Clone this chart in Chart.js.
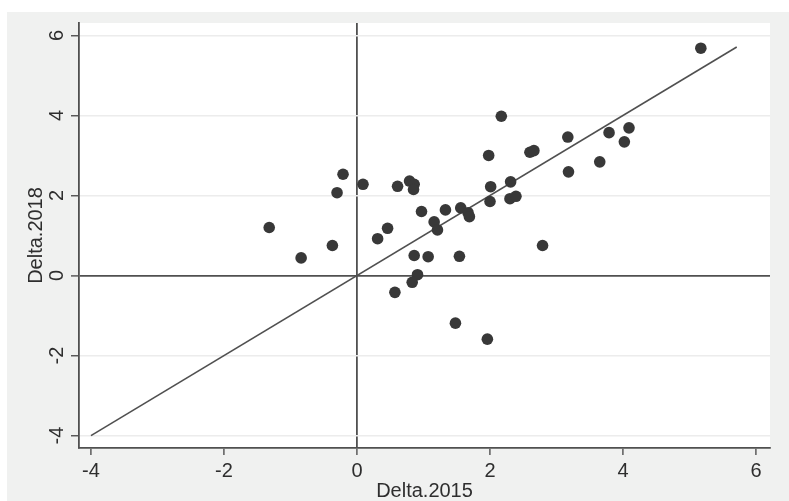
<!DOCTYPE html>
<html>
<head>
<meta charset="utf-8">
<script src="https://cdn.jsdelivr.net/npm/chart.js@4/dist/chart.umd.min.js"></script>
<style>
  html, body { margin: 0; padding: 0; background: #ffffff; }
  canvas { display: block; }
</style>
</head>
<body>
<canvas id="c" width="789" height="501"></canvas>
<script>
// ---- data ----
const delta2015 = [-1.32, -0.84, -0.37, -0.30, -0.21, 0.09, 0.31, 0.46, 0.61, 0.79, 0.86, 0.85,
  0.97, 1.16, 1.21, 0.86, 1.07, 0.91, 0.83, 0.57, 1.33, 1.56, 1.67, 1.69, 1.54, 1.98, 2.17,
  2.01, 2.00, 2.31, 2.30, 2.39, 2.60, 2.66, 3.17, 3.18, 2.79, 3.65, 3.79, 4.02, 4.09, 5.17,
  1.48, 1.96];
const delta2018 = [1.20, 0.44, 0.75, 2.07, 2.53, 2.28, 0.92, 1.18, 2.23, 2.36, 2.28, 2.15,
  1.60, 1.34, 1.14, 0.50, 0.47, 0.02, -0.17, -0.42, 1.64, 1.69, 1.57, 1.47, 0.48, 3.00, 3.98,
  2.22, 1.85, 2.34, 1.92, 1.98, 3.08, 3.12, 3.46, 2.59, 0.75, 2.84, 3.57, 3.34, 3.69, 5.68,
  -1.19, -1.59];
const lineX = [-4, 5.71];           // 45-degree reference line (y = x)
const xTicks = [-4, -2, 0, 2, 4, 6];
const yTicks = [-4, -2, 0, 2, 4, 6];
const xTitle = 'Delta.2015';
const yTitle = 'Delta.2018';

const points = delta2015.map((x, i) => ({ x: x, y: delta2018[i] }));
const diag = lineX.map(v => ({ x: v, y: v }));

const AXIS = '#505050';
const FONT = "'Liberation Sans', Arial, Helvetica, sans-serif";

const bgPlugin = {
  id: 'bg',
  beforeDraw(chart) {
    const ctx = chart.ctx, a = chart.chartArea;
    ctx.save();
    ctx.fillStyle = '#ffffff';
    ctx.fillRect(0, 0, chart.width, chart.height);
    ctx.fillStyle = '#f0f1f0';
    ctx.fillRect(7, 12, chart.width - 7, chart.height - 12);
    ctx.fillStyle = '#ffffff';
    ctx.fillRect(a.left, a.top, a.right - a.left, a.bottom - a.top);
    ctx.restore();
  }
};

new Chart(document.getElementById('c'), {
  type: 'scatter',
  data: {
    datasets: [
      {
        data: points,
        backgroundColor: '#383838',
        borderWidth: 0,
        pointRadius: 5.8,
        pointHoverRadius: 5.8
      },
      {
        type: 'line',
        data: diag,
        borderColor: AXIS,
        borderWidth: 1.6,
        pointRadius: 0,
        fill: false,
        tension: 0
      }
    ]
  },
  options: {
    responsive: false,
    devicePixelRatio: 1,
    animation: false,
    layout: { padding: { left: 0, right: 19, top: 23, bottom: 0 } },
    plugins: { legend: { display: false }, tooltip: { enabled: false } },
    scales: {
      x: {
        type: 'linear',
        min: -4.18,
        max: 6.21,
        afterBuildTicks: s => { s.ticks = xTicks.map(v => ({ value: v })); },
        afterFit: s => { s.height = 53; },
        border: { display: true, color: AXIS, width: 1.8 },
        grid: {
          drawOnChartArea: true,
          color: c => (c.tick && c.tick.value === 0) ? AXIS : 'rgba(0,0,0,0)',
          lineWidth: 1.8,
          tickColor: AXIS,
          tickLength: 7,
          tickWidth: 1.4
        },
        ticks: {
          font: { family: FONT, size: 20 },
          color: '#2e2e2e',
          padding: 4,
          maxRotation: 0,
          minRotation: 0
        },
        title: {
          display: true,
          text: xTitle,
          font: { family: FONT, size: 20, lineHeight: 1 },
          color: '#2e2e2e',
          padding: { top: 0, bottom: 0 }
        }
      },
      y: {
        type: 'linear',
        min: -4.31,
        max: 6.31,
        afterBuildTicks: s => { s.ticks = yTicks.map(v => ({ value: v })); },
        afterFit: s => { s.width = 79; },
        border: { display: true, color: AXIS, width: 1.8 },
        grid: {
          color: c => (c.tick && c.tick.value === 0) ? AXIS : '#ececec',
          lineWidth: c => (c.tick && c.tick.value === 0) ? 1.8 : 1.5,
          tickColor: AXIS,
          tickLength: 8,
          tickWidth: 1.4
        },
        ticks: {
          font: { family: FONT, size: 20 },
          color: '#2e2e2e',
          padding: 5,
          minRotation: 90,
          maxRotation: 90,
          crossAlign: 'center'
        },
        title: {
          display: true,
          text: yTitle,
          font: { family: FONT, size: 20, lineHeight: 1 },
          color: '#2e2e2e',
          padding: { top: 26, bottom: 0 }
        }
      }
    }
  },
  plugins: [bgPlugin]
});
</script>
</body>
</html>
